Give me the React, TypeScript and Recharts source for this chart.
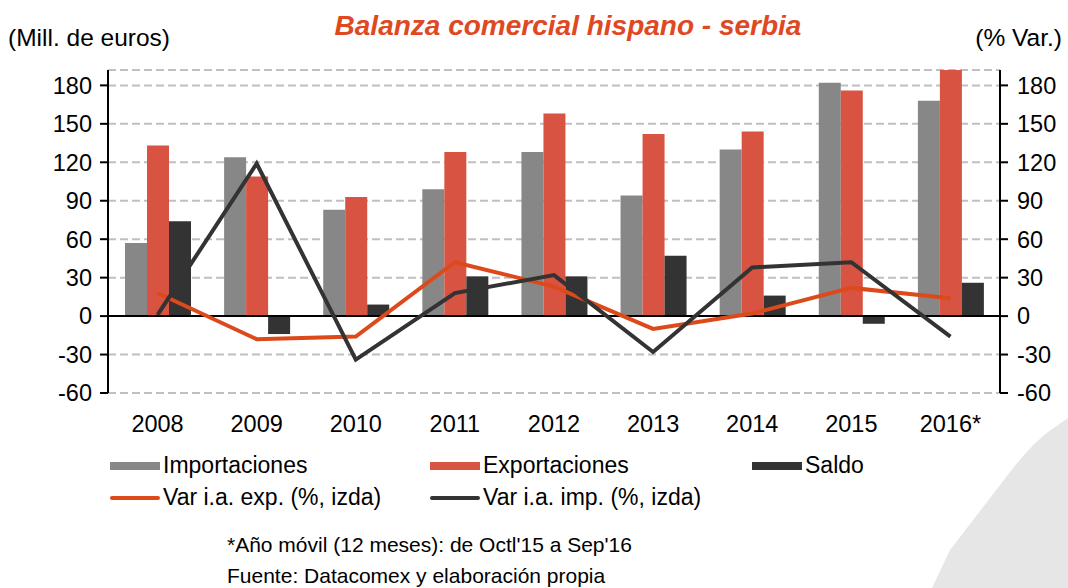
import {
  ComposedChart,
  Bar,
  Line,
  XAxis,
  YAxis,
  CartesianGrid,
  ReferenceLine
} from "recharts";

const years = ["2008", "2009", "2010", "2011", "2012", "2013", "2014", "2015", "2016*"];
const importaciones = [57, 124, 83, 99, 128, 94, 130, 182, 168];
const exportaciones = [133, 109, 93, 128, 158, 142, 144, 176, 192];
const saldo = [74, -14, 9, 31, 31, 47, 16, -6, 26];
const varExp = [18, -18, -16, 42, 23, -10, 2, 22, 14];
const varImp = [1, 119, -34, 18, 32, -28, 38, 42, -16];
const ticks = [-60, -30, 0, 30, 60, 90, 120, 150, 180];

const GRAY = "#878787";
const RED = "#d85341";
const DARK = "#333333";
const ORANGE = "#dc4a1c";
const FONT = "'Liberation Sans', Arial, sans-serif";

const data = years.map((y, i) => ({
  year: y,
  imp: importaciones[i],
  exp: exportaciones[i],
  saldo: saldo[i],
  varExp: varExp[i],
  varImp: varImp[i]
}));

const legendRow1 = [
  { label: "Importaciones", color: GRAY, x: 110 },
  { label: "Exportaciones", color: RED, x: 430 },
  { label: "Saldo", color: DARK, x: 752 }
];
const legendRow2 = [
  { label: "Var i.a. exp. (%, izda)", color: ORANGE, x: 110 },
  { label: "Var i.a. imp. (%, izda)", color: DARK, x: 430 }
];

const tickStyle = { fontSize: 23.5, fill: "#000", fontFamily: FONT };

export default function App() {
  return (
    <div
      style={{
        position: "absolute",
        left: 0,
        top: 0,
        width: 1068,
        height: 588,
        background: "#fff",
        fontFamily: FONT,
        overflow: "hidden"
      }}
    >
      <svg width={1068} height={588} style={{ position: "absolute", left: 0, top: 0 }}>
        <path
          d="M1068 418 L1048 432 Q1030 446 1010 472 L950 550 L932 588 L1068 588 Z"
          fill="#e6e6e6"
        />
      </svg>
      <div
        style={{
          position: "absolute",
          left: 34,
          width: 1068,
          top: 10,
          textAlign: "center",
          fontSize: 28,
          fontWeight: "bold",
          fontStyle: "italic",
          color: "#e0481f"
        }}
      >
        Balanza comercial hispano - serbia
      </div>
      <div style={{ position: "absolute", left: 8, top: 24, fontSize: 24.5 }}>(Mill. de euros)</div>
      <div style={{ position: "absolute", right: 6, top: 24, fontSize: 24.5 }}>(% Var.)</div>

      <div style={{ position: "absolute", left: 0, top: 0 }}>
        <ComposedChart
          width={1068}
          height={588}
          data={data}
          margin={{ top: 70, right: 0, bottom: 155, left: 8 }}
          barGap={0}
          barCategoryGap="17%"
        >
          <CartesianGrid
            vertical={false}
            stroke="#c0c0c0"
            strokeWidth={2}
            strokeDasharray="8 4"
            yAxisId="left"
          />
          <XAxis
            dataKey="year"
            axisLine={false}
            tickLine={false}
            tick={tickStyle}
            tickMargin={16}
            height={40}
          />
          <YAxis
            yAxisId="left"
            domain={[-60, 192]}
            ticks={ticks}
            allowDataOverflow
            width={100}
            axisLine={{ stroke: "#000", strokeWidth: 2 }}
            tickLine={{ stroke: "#000", strokeWidth: 2 }}
            tickSize={8}
            tickMargin={8}
            tick={tickStyle}
          />
          <YAxis
            yAxisId="right"
            orientation="right"
            domain={[-60, 192]}
            ticks={ticks}
            allowDataOverflow
            width={68}
            axisLine={{ stroke: "#000", strokeWidth: 2 }}
            tickLine={{ stroke: "#000", strokeWidth: 2 }}
            tickSize={8}
            tickMargin={9}
            tick={tickStyle}
          />
          <ReferenceLine yAxisId="left" y={0} stroke="#000" strokeWidth={2} />
          <Bar yAxisId="left" dataKey="imp" fill={GRAY} barSize={22} isAnimationActive={false} />
          <Bar yAxisId="left" dataKey="exp" fill={RED} barSize={22} isAnimationActive={false} />
          <Bar yAxisId="left" dataKey="saldo" fill={DARK} barSize={22} isAnimationActive={false} />
          <Line
            yAxisId="left"
            type="linear"
            dataKey="varExp"
            stroke={ORANGE}
            strokeWidth={4}
            dot={false}
            isAnimationActive={false}
          />
          <Line
            yAxisId="left"
            type="linear"
            dataKey="varImp"
            stroke={DARK}
            strokeWidth={4}
            dot={false}
            isAnimationActive={false}
          />
        </ComposedChart>
      </div>

      {legendRow1.map(l => (
        <div key={l.label} style={{ position: "absolute", left: l.x, top: 452, display: "flex", alignItems: "center" }}>
          <span style={{ display: "inline-block", width: 50, height: 8, background: l.color, marginRight: 3 }} />
          <span style={{ fontSize: 23 }}>{l.label}</span>
        </div>
      ))}
      {legendRow2.map(l => (
        <div key={l.label} style={{ position: "absolute", left: l.x, top: 484, display: "flex", alignItems: "center" }}>
          <span style={{ display: "inline-block", width: 50, height: 4, borderRadius: 2, background: l.color, marginRight: 3 }} />
          <span style={{ fontSize: 23 }}>{l.label}</span>
        </div>
      ))}
      <div style={{ position: "absolute", left: 227, top: 533, fontSize: 21 }}>
        *Año móvil (12 meses): de Octl'15 a Sep'16
      </div>
      <div style={{ position: "absolute", left: 227, top: 564, fontSize: 21 }}>
        Fuente: Datacomex y elaboración propia
      </div>
    </div>
  );
}
